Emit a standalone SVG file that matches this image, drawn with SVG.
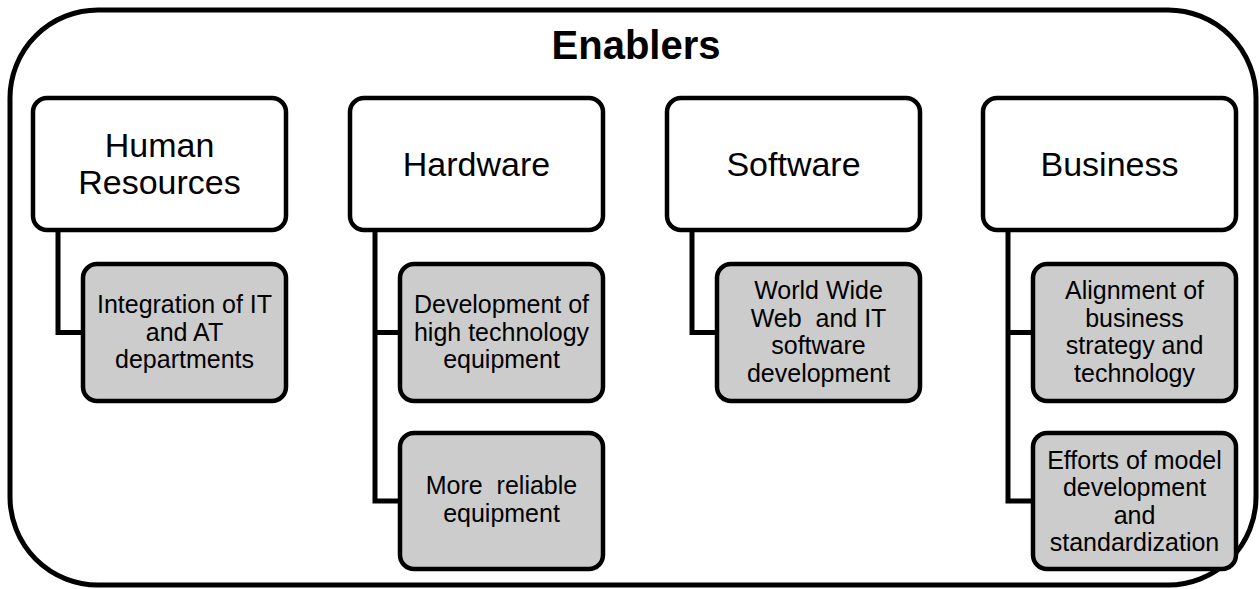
<svg xmlns="http://www.w3.org/2000/svg" width="1259" height="589" viewBox="0 0 1259 589">
  <style>
    .frame { fill: #ffffff; stroke: #000000; stroke-width: 5; }
    .cat { fill: #ffffff; stroke: #000000; stroke-width: 4.5; }
    .item { fill: #cccccc; stroke: #000000; stroke-width: 4.5; }
    .link { fill: none; stroke: #000000; stroke-width: 5; stroke-linejoin: miter; }
    text { font-family: "Liberation Sans", Arial, sans-serif; fill: #000000; text-anchor: middle; white-space: pre; }
    .title { font-size: 40px; font-weight: bold; }
    .catText { font-size: 34px; }
    .itemText { font-size: 25px; }
  </style>

  <!-- outer frame -->
  <rect class="frame" x="10" y="10" width="1246" height="575" rx="88" ry="88"/>
  <text class="title" x="636" y="59">Enablers</text>

  <!-- connectors from each category to its items -->
  <g id="connectors">
    <path class="link" d="M58,230 V332.5 H83"/>
    <path class="link" d="M375,230 V501 H400 M375,332.5 H400"/>
    <path class="link" d="M692,230 V332.5 H717"/>
    <path class="link" d="M1008,230 V501 H1033 M1008,332.5 H1033"/>
  </g>

  <!-- categories -->
  <g id="human-resources">
    <rect class="cat" x="33" y="98" width="253" height="132" rx="14"/>
    <text class="catText" x="159.5" y="157">Human</text>
    <text class="catText" x="159.5" y="194">Resources</text>
  </g>
  <g id="hardware">
    <rect class="cat" x="350" y="98" width="253" height="132" rx="14"/>
    <text class="catText" x="476.5" y="176">Hardware</text>
  </g>
  <g id="software">
    <rect class="cat" x="667" y="98" width="253" height="132" rx="14"/>
    <text class="catText" x="793.5" y="176">Software</text>
  </g>
  <g id="business">
    <rect class="cat" x="983" y="98" width="253" height="132" rx="14"/>
    <text class="catText" x="1109.5" y="176">Business</text>
  </g>

  <!-- items -->
  <g id="integration">
    <rect class="item" x="83" y="264" width="203" height="137" rx="14"/>
    <text class="itemText" x="184.5" y="313">Integration of IT</text>
    <text class="itemText" x="184.5" y="340.5">and AT</text>
    <text class="itemText" x="184.5" y="368">departments</text>
  </g>
  <g id="high-tech-equipment">
    <rect class="item" x="400" y="264" width="203" height="137" rx="14"/>
    <text class="itemText" x="501.5" y="313">Development of</text>
    <text class="itemText" x="501.5" y="340.5">high technology</text>
    <text class="itemText" x="501.5" y="368">equipment</text>
  </g>
  <g id="reliable-equipment">
    <rect class="item" x="400" y="433" width="203" height="136" rx="14"/>
    <text class="itemText" x="501.5" y="494">More  reliable</text>
    <text class="itemText" x="501.5" y="522">equipment</text>
  </g>
  <g id="www-software">
    <rect class="item" x="717" y="264" width="203" height="137" rx="14"/>
    <text class="itemText" x="818.5" y="299">World Wide</text>
    <text class="itemText" x="818.5" y="326.5">Web  and IT</text>
    <text class="itemText" x="818.5" y="354">software</text>
    <text class="itemText" x="818.5" y="381.5">development</text>
  </g>
  <g id="alignment">
    <rect class="item" x="1033" y="264" width="203" height="137" rx="14"/>
    <text class="itemText" x="1134.5" y="299">Alignment of</text>
    <text class="itemText" x="1134.5" y="326.5">business</text>
    <text class="itemText" x="1134.5" y="354">strategy and</text>
    <text class="itemText" x="1134.5" y="381.5">technology</text>
  </g>
  <g id="standardization">
    <rect class="item" x="1033" y="433" width="203" height="136" rx="14"/>
    <text class="itemText" x="1134.5" y="468.5">Efforts of model</text>
    <text class="itemText" x="1134.5" y="496">development</text>
    <text class="itemText" x="1134.5" y="523.5">and</text>
    <text class="itemText" x="1134.5" y="551">standardization</text>
  </g>
</svg>
